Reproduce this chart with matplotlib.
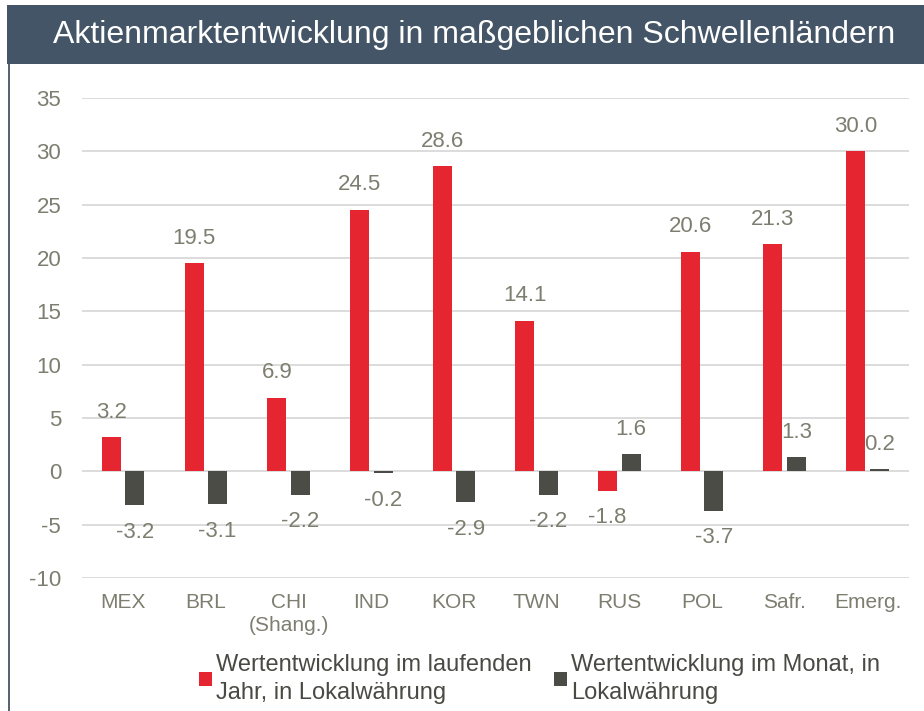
import matplotlib
matplotlib.use('Agg')
import matplotlib.pyplot as plt
import numpy as np
from matplotlib.patches import Rectangle

plt.rcParams['font.family'] = ['Liberation Sans', 'DejaVu Sans']
plt.rcParams['axes.unicode_minus'] = False

categories = ['MEX', 'BRL', 'CHI\n(Shang.)', 'IND', 'KOR', 'TWN', 'RUS', 'POL', 'Safr.', 'Emerg.']
ytd_values = [3.2, 19.5, 6.9, 24.5, 28.6, 14.1, -1.8, 20.6, 21.3, 30.0]
month_values = [-3.2, -3.1, -2.2, -0.2, -2.9, -2.2, 1.6, -3.7, 1.3, 0.2]
series_names = ['Wertentwicklung im laufenden\nJahr, in Lokalwährung',
                'Wertentwicklung im Monat, in\nLokalwährung']
yticks = [-10, -5, 0, 5, 10, 15, 20, 25, 30, 35]

RED = '#e52630'
DARK = '#4a4c45'
TXT = '#7d7d70'
SLATE = '#435566'

W, H = 924, 711
fig = plt.figure(figsize=(W / 100, H / 100), dpi=100)
fig.patch.set_facecolor('white')

# title bar and left frame line
fig.patches.append(Rectangle((7 / W, 1 - 64 / H), 1, 59 / H, transform=fig.transFigure,
                             fc=SLATE, ec='none', zorder=0))
fig.lines.append(plt.Line2D([8.5 / W, 8.5 / W], [0, 1 - 64 / H], transform=fig.transFigure,
                            color=SLATE, lw=1.3))
fig.text(474 / W, 1 - 35 / H, 'Aktienmarktentwicklung in maßgeblichen Schwellenländern',
         color='white', fontsize=23, ha='center', va='center')

ax = fig.add_axes([82 / W, 1 - 578 / H, 827 / W, 480 / H])
x = np.arange(len(categories))
w = 0.23
b1 = ax.bar(x - 0.145, ytd_values, w, color=RED, zorder=3, label=series_names[0])
b2 = ax.bar(x + 0.14, month_values, w, color=DARK, zorder=3, label=series_names[1])

ax.set_xlim(-0.5, 9.5)
ax.set_ylim(-10, 35)
ax.set_yticks(yticks)
ax.grid(axis='y', color='#d9d9d9', lw=1.3, zorder=0)
ax.set_axisbelow(True)
for s in ax.spines.values():
    s.set_visible(False)
ax.tick_params(axis='y', length=0, pad=15, labelsize=16, labelcolor=TXT)
ax.tick_params(axis='x', length=0, pad=11, labelsize=15, labelcolor=TXT)
ax.set_xticks(x)
ax.set_xticklabels(categories, linespacing=1.25)

for bars, vals in ((b1, ytd_values), (b2, month_values)):
    for r, v in zip(bars, vals):
        cx = r.get_x() + r.get_width() / 2
        off = 18 if v >= 0 else -19.5
        ax.annotate(f'{v:.1f}', (cx, v), xytext=(0, off), textcoords='offset points',
                    ha='center', va='center', fontsize=16, color=TXT)

for bars, name, px in ((b1, series_names[0], 199), (b2, series_names[1], 554)):
    fig.legend(handles=[bars], labels=[name], loc='center left',
               bbox_to_anchor=(px / W, 1 - 679 / H), frameon=False, fontsize=17,
               handlelength=0.55, handleheight=0.5, handletextpad=0.17,
               borderpad=0, borderaxespad=0, labelcolor='#4a4a44', labelspacing=0)
for t in fig.legends[0].get_texts() + fig.legends[1].get_texts():
    t.set_linespacing(1.3)

fig.savefig('out.png', dpi=100, facecolor='white')
